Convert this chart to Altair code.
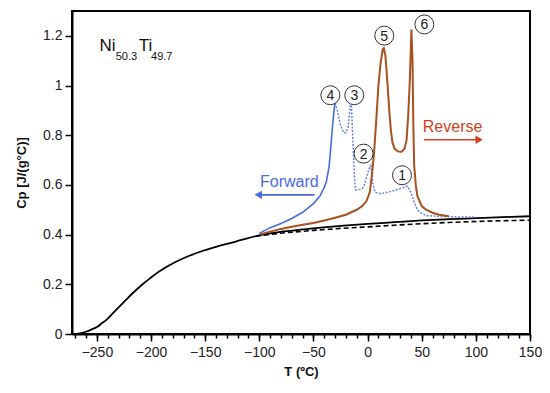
import altair as alt
import pandas as pd

# ---- data ----
base_T = [-273, -269, -264, -259.5, -255, -250, -245, -241, -236, -232, -227, -223, -218,
          -213.5, -207, -201, -195, -189, -183, -177, -170, -164, -158, -152, -144, -137,
          -129, -121, -112, -103, -98, -90, -75, -50, -25, 0, 25, 50, 75, 100, 125, 150]
base_cp = [0.0, 0.0, 0.004, 0.010, 0.018, 0.028, 0.045, 0.058, 0.08, 0.098, 0.12, 0.138,
           0.16, 0.178, 0.203, 0.224, 0.244, 0.261, 0.277, 0.291, 0.305, 0.316, 0.326,
           0.335, 0.346, 0.355, 0.364, 0.373, 0.384, 0.394, 0.399, 0.405, 0.414, 0.425,
           0.435, 0.443, 0.45, 0.457, 0.462, 0.466, 0.47, 0.474]

dash_T = [-103, -90, -75, -50, -25, 0, 25, 50, 75, 100, 125, 150]
dash_cp = [0.394, 0.401, 0.408, 0.417, 0.425, 0.431, 0.438, 0.444, 0.449, 0.453, 0.456, 0.458]

rev_T = [-100, -90, -80, -70, -60, -50, -40, -30, -20, -10, -5, -1, 2, 4, 6, 8, 10, 12,
         14, 15, 16.5, 18.5, 20, 21.5, 23, 25, 28, 31, 34, 36, 37.5, 39, 40.5, 41.5,
         42.2, 43, 44.5, 46, 50, 54, 60, 66, 75]
rev_cp = [0.4, 0.412, 0.423, 0.432, 0.44, 0.447, 0.457, 0.468, 0.48, 0.5, 0.515, 0.535,
          0.57, 0.64, 0.73, 0.86, 1.0, 1.09, 1.145, 1.15, 1.12, 1.0, 0.9, 0.82, 0.77,
          0.745, 0.735, 0.733, 0.745, 0.78, 0.88, 1.02, 1.225, 1.1, 0.86, 0.68, 0.6,
          0.555, 0.515, 0.5, 0.488, 0.48, 0.474]

fwd_solid_T = [-100, -90, -80, -70, -60, -50, -44, -40, -38, -35.5, -34, -32.5, -31, -30]
fwd_solid_cp = [0.405, 0.428, 0.445, 0.465, 0.49, 0.525, 0.555, 0.59, 0.615, 0.675, 0.75,
                0.83, 0.9, 0.93]

fwd_dot_T = [-30, -28, -25, -22, -20, -18, -16, -15, -14, -13, -12, -11, -9, -5, -3, -1,
             1, 3, 5, 7, 12, 20, 30, 37, 40, 43, 46, 50, 55, 70, 85, 100]
fwd_dot_cp = [0.93, 0.9, 0.84, 0.81, 0.81, 0.83, 0.92, 0.93, 0.82, 0.72, 0.62, 0.58, 0.58,
              0.585, 0.6, 0.63, 0.66, 0.678, 0.6, 0.57, 0.565, 0.572, 0.585, 0.595, 0.57,
              0.53, 0.5, 0.485, 0.476, 0.473, 0.471, 0.47]

peak_labels = ["1", "2", "3", "4", "5", "6"]
peak_T = [31.8, -3.7, -12.3, -34.4, 15.4, 52.4]
peak_cp = [0.639, 0.726, 0.961, 0.961, 1.201, 1.246]

x_major = [-250, -200, -150, -100, -50, 0, 50, 100, 150]
x_minor = list(range(-270, 151, 10))
y_ticks = [round(i * 0.05, 2) for i in range(0, 27)]

# ---- frames ----
base = pd.DataFrame({"T": base_T, "cp": base_cp})
dash = pd.DataFrame({"T": dash_T, "cp": dash_cp})
rev = pd.DataFrame({"T": rev_T, "cp": rev_cp})
fws = pd.DataFrame({"T": fwd_solid_T, "cp": fwd_solid_cp})
fwd = pd.DataFrame({"T": fwd_dot_T, "cp": fwd_dot_cp})
peaks = pd.DataFrame({"T": peak_T, "cp": peak_cp, "lab": peak_labels})

FONT = "Liberation Sans"
BLUE = "#4a6be0"
BROWN = "#a8521f"
RED = "#d2401c"

xscale = alt.Scale(domain=[-273, 150], nice=False, zero=False)
yscale = alt.Scale(domain=[0, 1.3], nice=False)

xaxis_major = alt.Axis(
    values=x_major, format="d", title="T (ºC)", orient="bottom",
    tickSize=7, labelOverlap=False, labelFlush=False,
    labelPadding=4, titlePadding=6, grid=False,
)
xaxis_minor = alt.Axis(
    values=x_minor, labels=False, title=None, orient="bottom", domain=False,
    tickSize=4, grid=False,
)
yaxis = alt.Axis(
    values=y_ticks, format="~g", title="Cp [J/(g°C)]",
    labelExpr="abs(datum.value*5 - round(datum.value*5)) < 0.001 && datum.value < 1.25 ? datum.label : ''",
    tickSize={"condition": {"test": "abs(datum.value*5 - round(datum.value*5)) < 0.001",
                            "value": 7}, "value": 4},
    labelPadding=3, titlePadding=14, grid=False,
)

X = alt.X("T:Q", scale=xscale, axis=xaxis_major)
Y = alt.Y("cp:Q", scale=yscale, axis=yaxis)

solid = alt.Chart(base).mark_line(color="black", strokeWidth=1.8,
                                  interpolate="monotone").encode(x=X, y=Y)
dashed = alt.Chart(dash).mark_line(color="black", strokeWidth=1.6, strokeDash=[5, 3]).encode(
    x=alt.X("T:Q", axis=xaxis_minor), y="cp:Q")
blue1 = alt.Chart(fws).mark_line(color=BLUE, strokeWidth=1.6).encode(x="T:Q", y="cp:Q")
blue2 = alt.Chart(fwd).mark_line(color=BLUE, strokeWidth=1.5, strokeDash=[2, 1.5],
                                 opacity=0.85).encode(x="T:Q", y="cp:Q")
brown = alt.Chart(rev).mark_line(color=BROWN, strokeWidth=2).encode(x="T:Q", y="cp:Q")

circles = alt.Chart(peaks).mark_point(shape="circle", size=360, filled=True, fill="white",
                                      stroke="#333", strokeWidth=1, opacity=1).encode(
    x="T:Q", y="cp:Q")
ctext = alt.Chart(peaks).mark_text(font=FONT, fontSize=14, color="#222",
                                   baseline="middle", align="center", dy=1).encode(
    x="T:Q", y="cp:Q", text="lab:N")

# annotations
ann_text = ["Forward", "Reverse"]
ann_T = [-72.3, 78.5]
ann_cp = [0.612, 0.832]
ann_col = [BLUE, RED]
ann = pd.DataFrame({"T": ann_T, "cp": ann_cp, "t": ann_text, "c": ann_col})
anntext = alt.Chart(ann).mark_text(font=FONT, fontSize=16, baseline="middle").encode(
    x="T:Q", y="cp:Q", text="t:N", color=alt.Color("c:N", scale=None))

arrow_T = [-49, -100, 52, 101]
arrow_cp = [0.56, 0.56, 0.782, 0.782]
arrow_grp = ["f", "f", "r", "r"]
arrow_col = [BLUE, BLUE, RED, RED]
arr = pd.DataFrame({"T": arrow_T, "cp": arrow_cp, "g": arrow_grp, "c": arrow_col})
arrlines = alt.Chart(arr).mark_line(strokeWidth=1.6).encode(
    x="T:Q", y="cp:Q", detail="g:N", color=alt.Color("c:N", scale=None))
head_T = [-101, 103]
head_cp = [0.56, 0.782]
head_shape = ["triangle-left", "triangle-right"]
head_col = [BLUE, RED]
heads = pd.DataFrame({"T": head_T, "cp": head_cp, "s": head_shape, "c": head_col})
arrheads = alt.Chart(heads).mark_point(filled=True, size=70, opacity=1).encode(
    x="T:Q", y="cp:Q", shape=alt.Shape("s:N", scale=None),
    color=alt.Color("c:N", scale=None))

# composition label Ni50.3Ti49.7
comp_t = ["Ni", "50.3", "Ti", "49.7"]
comp_T = [-247.7, -232.6, -211.4, -200.0]
comp_cp = [1.14, 1.104, 1.14, 1.104]
comp_sz = [17, 11, 17, 11]
comp = pd.DataFrame({"T": comp_T, "cp": comp_cp, "t": comp_t, "s": comp_sz})
comptext = alt.Chart(comp).mark_text(font=FONT, align="left", baseline="alphabetic",
                                     color="#111").encode(
    x="T:Q", y="cp:Q", text="t:N", size=alt.Size("s:Q", scale=None))

main = alt.layer(
    solid, blue1, blue2, brown, arrlines, arrheads, anntext, circles, ctext, comptext
)

chart = alt.layer(main, dashed).resolve_axis(x="independent").properties(
    width=458, height=323,
    autosize=alt.AutoSizeParams(type="none"),
    padding={"left": 64, "top": 3, "right": 12, "bottom": 45},
).configure_view(
    stroke="black", strokeWidth=2
).configure_axis(
    labelFont=FONT, labelFontSize=14, labelColor="#222",
    titleFont=FONT, titleFontSize=13, titleFontWeight="bold", titleColor="#111",
    domainColor="black", domainWidth=2, tickColor="black", tickWidth=1.5,
)

chart.save("out.html", embed_options={"renderer": "svg", "actions": False})
